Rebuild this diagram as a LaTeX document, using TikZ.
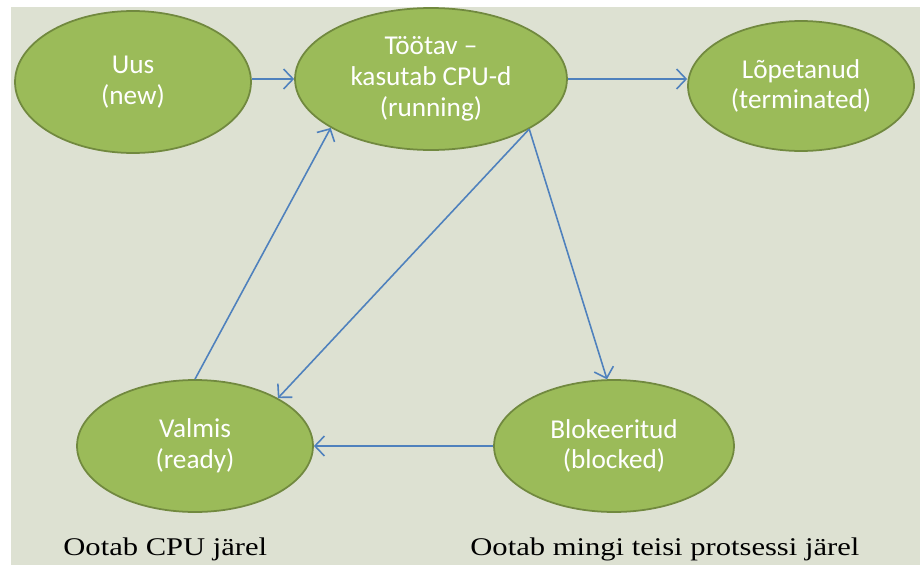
\documentclass[tikz,border=0pt]{standalone}
\usepackage{fontspec}
\setmainfont{Carlito}
\newfontfamily\notefont{Liberation Serif}
\usetikzlibrary{shapes.geometric,arrows.meta}

\definecolor{bgpaper}{RGB}{221,225,210}
\definecolor{stfill}{RGB}{155,187,89}
\definecolor{stline}{RGB}{113,137,63}
\definecolor{arrowblue}{RGB}{79,129,189}

\tikzset{
  state/.style={ellipse,draw=stline,line width=1pt,fill=stfill,
    text=white,align=center,font=\fontsize{15.5}{17.5}\selectfont},
  trans/.style={-{Straight Barb[length=1.9mm,width=4mm]},arrowblue,line width=0.9pt},
  note/.style={anchor=base west,inner sep=0pt,transform shape,xscale=1.2,
    font=\notefont\fontsize{14.5}{17}\selectfont}
}

\begin{document}
\begin{tikzpicture}[x=0.02cm,y=-0.02cm]
\useasboundingbox (0,0) rectangle (920,565);
\fill[white] (0,0) rectangle (920,565);
\fill[bgpaper] (11,7) rectangle (920,565);

% states
\node[state,minimum width=4.72cm,minimum height=2.84cm] (uus) at (133,82) {Uus\\(new)};
\node[state,minimum width=5.44cm,minimum height=2.84cm] (running) at (431,79) {Töötav –\\kasutab CPU-d\\(running)};
\node[state,minimum width=4.52cm,minimum height=2.6cm] (lopp) at (801,86) {Lõpetanud\\(terminated)};
\node[state,minimum width=4.72cm,minimum height=2.64cm] (valmis) at (195,446) {Valmis\\(ready)};
\node[state,minimum width=4.8cm,minimum height=2.64cm] (blok) at (614,446) {Blokeeritud\\(blocked)};

% transitions
\draw[trans] (uus.east |- running.west) -- (running.west);
\draw[trans] (running.east) -- (running.east -| lopp.west);
\draw[trans] (valmis.north) -- (running.206);
\draw[trans] (running.333) -- (valmis.30);
\draw[trans] (running.333) -- (blok.96);
\draw[trans] (blok.west) -- (valmis.east);

% captions
\node[note] (cpuwait) at (63,555) {Ootab CPU järel};
\node[note] (procwait) at (470,555) {Ootab mingi teisi protsessi järel};
\end{tikzpicture}
\end{document}
